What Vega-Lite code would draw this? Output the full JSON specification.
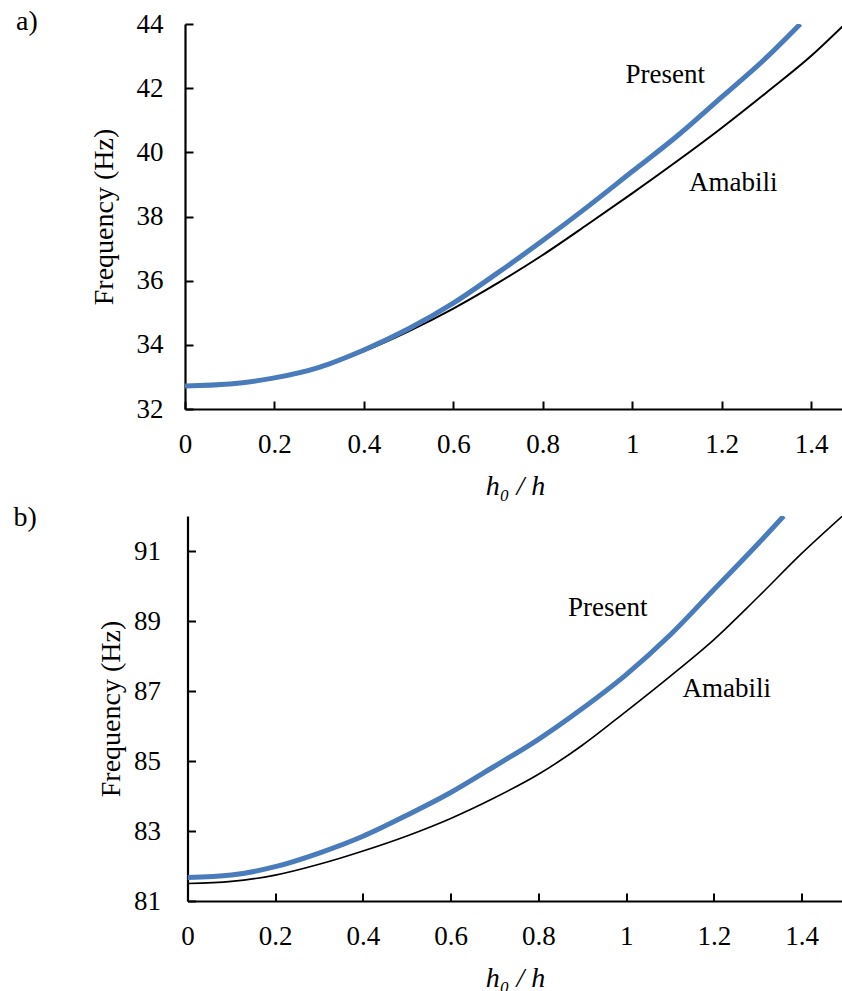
{
  "$schema": "https://vega.github.io/schema/vega-lite/v6.json",
  "padding": {"left": 13, "top": 8, "right": 0, "bottom": 0},
  "columns": 1,
  "center": true,
  "spacing": 4,
  "config": {
    "view": {"stroke": null},
    "font": "Liberation Serif",
    "axis": {
      "grid": false,
      "domainColor": "#000000",
      "domainWidth": 2.2,
      "tickColor": "#000000",
      "tickWidth": 2,
      "tickSize": -8,
      "labelFont": "Liberation Serif",
      "labelFontSize": 27,
      "labelColor": "#000000",
      "labelFlush": false,
      "titleFont": "Liberation Serif",
      "titleFontSize": 28,
      "titleFontWeight": "normal",
      "titleColor": "#000000"
    },
    "axisX": {"labelPadding": 30, "titlePadding": 15},
    "title": {
      "font": "Liberation Serif",
      "fontSize": 28,
      "fontWeight": "normal",
      "color": "#000000",
      "anchor": "start",
      "frame": "group",
      "offset": 0
    }
  },
  "datasets": {
    "curvesA": [
      {"h": 0.0, "f": 32.72, "series": "Amabili"},
      {"h": 0.1, "f": 32.78, "series": "Amabili"},
      {"h": 0.2, "f": 32.97, "series": "Amabili"},
      {"h": 0.3, "f": 33.29, "series": "Amabili"},
      {"h": 0.4, "f": 33.8, "series": "Amabili"},
      {"h": 0.5, "f": 34.42, "series": "Amabili"},
      {"h": 0.6, "f": 35.13, "series": "Amabili"},
      {"h": 0.7, "f": 35.93, "series": "Amabili"},
      {"h": 0.8, "f": 36.8, "series": "Amabili"},
      {"h": 0.9, "f": 37.75, "series": "Amabili"},
      {"h": 1.0, "f": 38.72, "series": "Amabili"},
      {"h": 1.1, "f": 39.72, "series": "Amabili"},
      {"h": 1.2, "f": 40.76, "series": "Amabili"},
      {"h": 1.3, "f": 41.86, "series": "Amabili"},
      {"h": 1.4, "f": 43.0, "series": "Amabili"},
      {"h": 1.476, "f": 44.0, "series": "Amabili"},
      {"h": 0.0, "f": 32.72, "series": "Present"},
      {"h": 0.1, "f": 32.78, "series": "Present"},
      {"h": 0.2, "f": 32.97, "series": "Present"},
      {"h": 0.3, "f": 33.3, "series": "Present"},
      {"h": 0.4, "f": 33.84, "series": "Present"},
      {"h": 0.5, "f": 34.5, "series": "Present"},
      {"h": 0.6, "f": 35.3, "series": "Present"},
      {"h": 0.7, "f": 36.25, "series": "Present"},
      {"h": 0.8, "f": 37.25, "series": "Present"},
      {"h": 0.9, "f": 38.3, "series": "Present"},
      {"h": 1.0, "f": 39.4, "series": "Present"},
      {"h": 1.1, "f": 40.5, "series": "Present"},
      {"h": 1.2, "f": 41.72, "series": "Present"},
      {"h": 1.3, "f": 42.95, "series": "Present"},
      {"h": 1.376, "f": 44.0, "series": "Present"}
    ],
    "curvesB": [
      {"h": 0.0, "f": 81.5, "series": "Amabili"},
      {"h": 0.1, "f": 81.56, "series": "Amabili"},
      {"h": 0.2, "f": 81.74, "series": "Amabili"},
      {"h": 0.3, "f": 82.05, "series": "Amabili"},
      {"h": 0.4, "f": 82.43, "series": "Amabili"},
      {"h": 0.5, "f": 82.86, "series": "Amabili"},
      {"h": 0.6, "f": 83.36, "series": "Amabili"},
      {"h": 0.7, "f": 83.95, "series": "Amabili"},
      {"h": 0.8, "f": 84.62, "series": "Amabili"},
      {"h": 0.9, "f": 85.45, "series": "Amabili"},
      {"h": 1.0, "f": 86.42, "series": "Amabili"},
      {"h": 1.1, "f": 87.42, "series": "Amabili"},
      {"h": 1.2, "f": 88.47, "series": "Amabili"},
      {"h": 1.3, "f": 89.68, "series": "Amabili"},
      {"h": 1.4, "f": 90.93, "series": "Amabili"},
      {"h": 1.493, "f": 92.0, "series": "Amabili"},
      {"h": 0.0, "f": 81.67, "series": "Present"},
      {"h": 0.1, "f": 81.74, "series": "Present"},
      {"h": 0.2, "f": 81.98, "series": "Present"},
      {"h": 0.3, "f": 82.37, "series": "Present"},
      {"h": 0.4, "f": 82.85, "series": "Present"},
      {"h": 0.5, "f": 83.45, "series": "Present"},
      {"h": 0.6, "f": 84.1, "series": "Present"},
      {"h": 0.7, "f": 84.85, "series": "Present"},
      {"h": 0.8, "f": 85.62, "series": "Present"},
      {"h": 0.9, "f": 86.5, "series": "Present"},
      {"h": 1.0, "f": 87.47, "series": "Present"},
      {"h": 1.1, "f": 88.6, "series": "Present"},
      {"h": 1.2, "f": 89.9, "series": "Present"},
      {"h": 1.3, "f": 91.2, "series": "Present"},
      {"h": 1.359, "f": 92.0, "series": "Present"}
    ],
    "labelsA": [
      {"h": 1.074, "f": 42.41, "series": "Present"},
      {"h": 1.226, "f": 39.05, "series": "Amabili"}
    ],
    "labelsB": [
      {"h": 0.958, "f": 89.37, "series": "Present"},
      {"h": 1.229, "f": 87.06, "series": "Amabili"}
    ]
  },
  "concat": [
    {
      "title": {"text": "a)", "dx": -169, "dy": 30},
      "width": 660,
      "height": 385,
      "layer": [
        {
          "data": {"name": "curvesA"},
          "transform": [{"filter": "datum.series === 'Amabili'"}],
          "mark": {"type": "line", "color": "#000000", "strokeWidth": 2, "interpolate": "monotone", "clip": true},
          "encoding": {
            "x": {"field": "h", "type": "quantitative", "scale": {"domain": [0, 1.476], "nice": false},
                  "axis": {"values": [0, 0.2, 0.4, 0.6, 0.8, 1, 1.2, 1.4], "format": "~g", "title": "h₀ / h", "titleFontStyle": "italic"}},
            "y": {"field": "f", "type": "quantitative", "scale": {"domain": [32, 44], "nice": false, "zero": false},
                  "axis": {"values": [32, 34, 36, 38, 40, 42, 44], "title": "Frequency (Hz)", "labelPadding": 30, "titlePadding": 18}}
          }
        },
        {
          "data": {"name": "curvesA"},
          "transform": [{"filter": "datum.series === 'Present'"}],
          "mark": {"type": "line", "color": "#4a7bbb", "strokeWidth": 5, "interpolate": "monotone", "clip": true},
          "encoding": {
            "x": {"field": "h", "type": "quantitative"},
            "y": {"field": "f", "type": "quantitative"}
          }
        },
        {
          "mark": {"type": "rule", "color": "#000000", "strokeWidth": 2},
          "encoding": {"y": {"datum": 44}}
        },
        {
          "data": {"name": "labelsA"},
          "mark": {"type": "text", "font": "Liberation Serif", "fontSize": 27, "color": "#000000", "align": "center", "baseline": "middle"},
          "encoding": {
            "x": {"field": "h", "type": "quantitative"},
            "y": {"field": "f", "type": "quantitative"},
            "text": {"field": "series"}
          }
        }
      ]
    },
    {
      "title": {"text": "b)", "dx": -174, "dy": 20},
      "width": 655,
      "height": 385,
      "layer": [
        {
          "data": {"name": "curvesB"},
          "transform": [{"filter": "datum.series === 'Amabili'"}],
          "mark": {"type": "line", "color": "#000000", "strokeWidth": 1.6, "interpolate": "monotone", "clip": true},
          "encoding": {
            "x": {"field": "h", "type": "quantitative", "scale": {"domain": [0, 1.493], "nice": false},
                  "axis": {"values": [0, 0.2, 0.4, 0.6, 0.8, 1, 1.2, 1.4], "format": "~g", "title": "h₀ / h", "titleFontStyle": "italic"}},
            "y": {"field": "f", "type": "quantitative", "scale": {"domain": [81, 92], "nice": false, "zero": false},
                  "axis": {"values": [81, 83, 85, 87, 89, 91], "title": "Frequency (Hz)", "labelPadding": 35, "titlePadding": 8}}
          }
        },
        {
          "data": {"name": "curvesB"},
          "transform": [{"filter": "datum.series === 'Present'"}],
          "mark": {"type": "line", "color": "#4a7bbb", "strokeWidth": 5, "interpolate": "monotone", "clip": true},
          "encoding": {
            "x": {"field": "h", "type": "quantitative"},
            "y": {"field": "f", "type": "quantitative"}
          }
        },
        {
          "mark": {"type": "rule", "color": "#000000", "strokeWidth": 2},
          "encoding": {"y": {"datum": 92}}
        },
        {
          "data": {"name": "labelsB"},
          "mark": {"type": "text", "font": "Liberation Serif", "fontSize": 27, "color": "#000000", "align": "center", "baseline": "middle"},
          "encoding": {
            "x": {"field": "h", "type": "quantitative"},
            "y": {"field": "f", "type": "quantitative"},
            "text": {"field": "series"}
          }
        }
      ]
    }
  ]
}
